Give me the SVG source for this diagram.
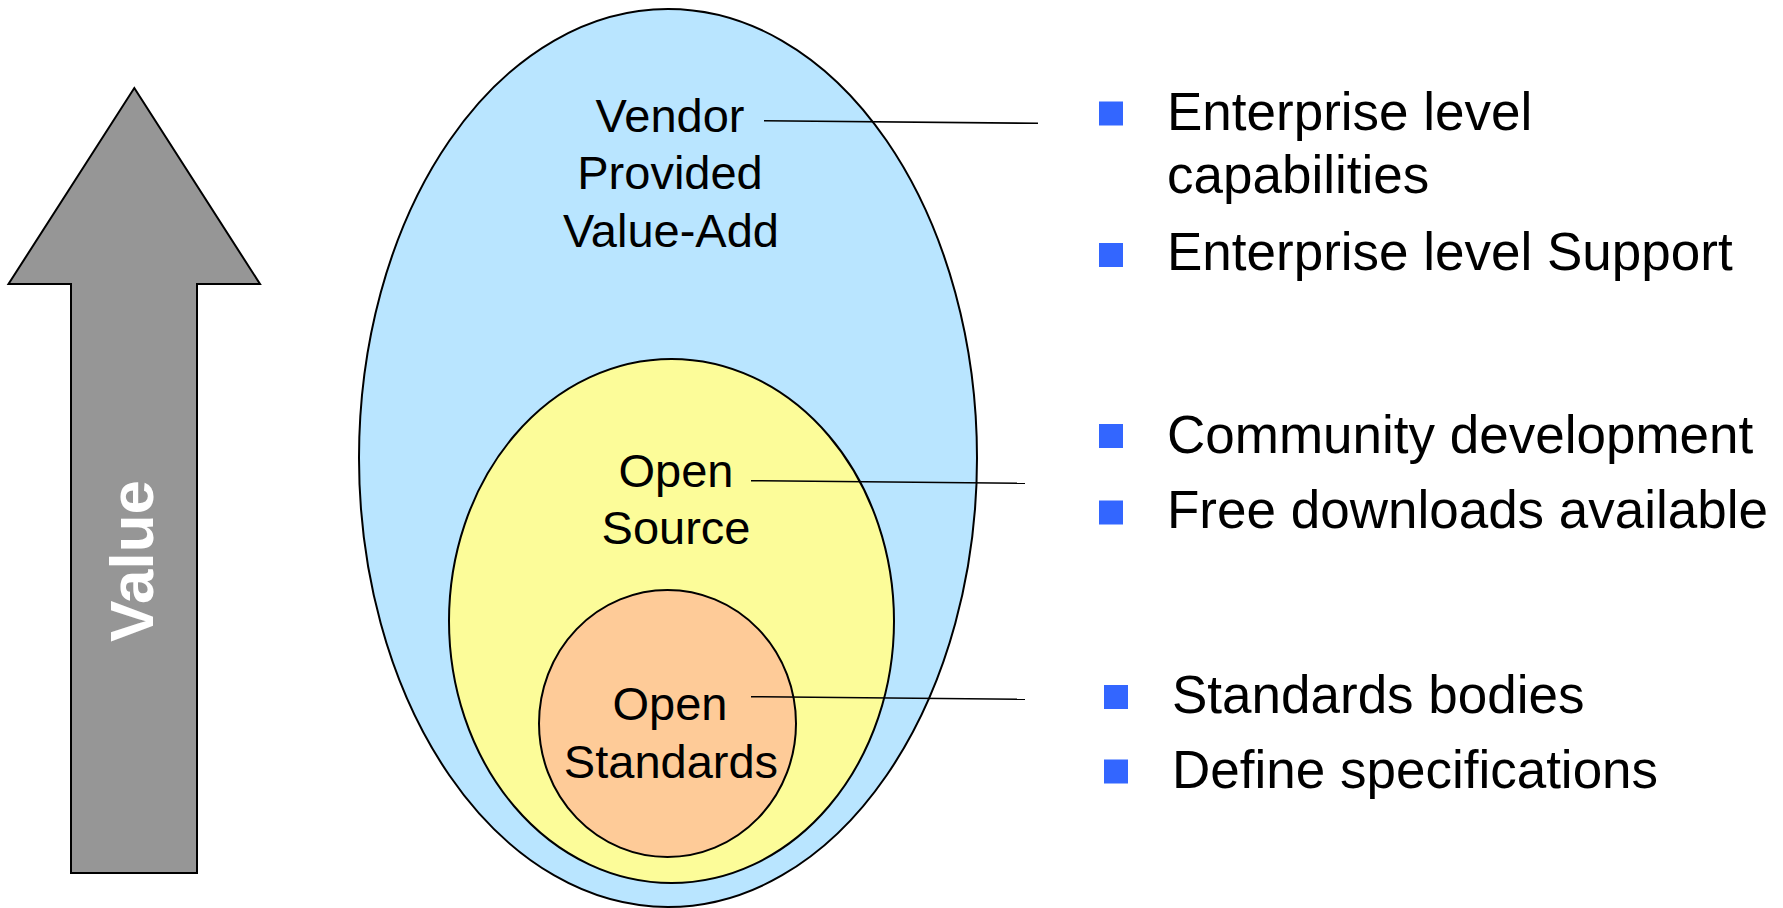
<svg xmlns="http://www.w3.org/2000/svg" width="1783" height="908" viewBox="0 0 1783 908">
<style>
.shape{stroke:#000;stroke-width:2}
.lbl{font-family:"Liberation Sans",Arial,sans-serif;font-size:47px;fill:#000;text-anchor:middle}
.item{font-family:"Liberation Sans",Arial,sans-serif;font-size:53px;fill:#000}
.bullet{fill:#3366FF}
.conn{stroke:#000;stroke-width:1.6;fill:none}
</style>
<rect width="1783" height="908" fill="#fff"/>
<g id="value-arrow">
<polygon class="shape" fill="#969696" points="134.3,88 260,284 197,284 197,873 71,873 71,284 8.5,284"/>
<text transform="translate(153,561) rotate(-90)" font-family="'Liberation Sans',Arial,sans-serif" font-size="62" font-weight="bold" fill="#fff" text-anchor="middle">Value</text>
</g>
<g id="vendor">
<ellipse class="shape" fill="#B9E5FF" cx="668" cy="458" rx="309" ry="449"/>
<text class="lbl" x="670" y="131.7">Vendor</text>
<text class="lbl" x="670" y="189.3">Provided</text>
<text class="lbl" x="671" y="246.7">Value-Add</text>
</g>
<g id="open-source">
<ellipse class="shape" fill="#FCFC99" cx="671.5" cy="621" rx="222.5" ry="262"/>
<text class="lbl" x="676" y="486.7">Open</text>
<text class="lbl" x="676" y="544">Source</text>
</g>
<g id="open-standards">
<ellipse class="shape" fill="#FECB98" cx="667.5" cy="723.5" rx="128.5" ry="133.5"/>
<text class="lbl" x="670" y="720">Open</text>
<text class="lbl" x="671" y="778">Standards</text>
</g>
<g id="connectors">
<line class="conn" x1="764" y1="120.7" x2="1038" y2="123.3"/>
<line class="conn" x1="751" y1="480.7" x2="1025" y2="483.3"/>
<line class="conn" x1="751" y1="696.7" x2="1025" y2="699.3"/>
</g>
<g id="vendor-items">
<rect class="bullet" x="1099" y="101.5" width="24" height="24"/>
<text class="item" x="1167" y="130">Enterprise level</text>
<text class="item" x="1167" y="193.3">capabilities</text>
<rect class="bullet" x="1099" y="243" width="24" height="24"/>
<text class="item" x="1167" y="270">Enterprise level Support</text>
</g>
<g id="open-source-items">
<rect class="bullet" x="1099" y="424" width="24" height="24"/>
<text class="item" x="1167" y="452.7">Community development</text>
<rect class="bullet" x="1099" y="500.5" width="24" height="24"/>
<text class="item" x="1167" y="528.3">Free downloads available</text>
</g>
<g id="open-standards-items">
<rect class="bullet" x="1104" y="685" width="24" height="24"/>
<text class="item" x="1172" y="713">Standards bodies</text>
<rect class="bullet" x="1104" y="759.5" width="24" height="24"/>
<text class="item" x="1172" y="788">Define specifications</text>
</g>
</svg>
